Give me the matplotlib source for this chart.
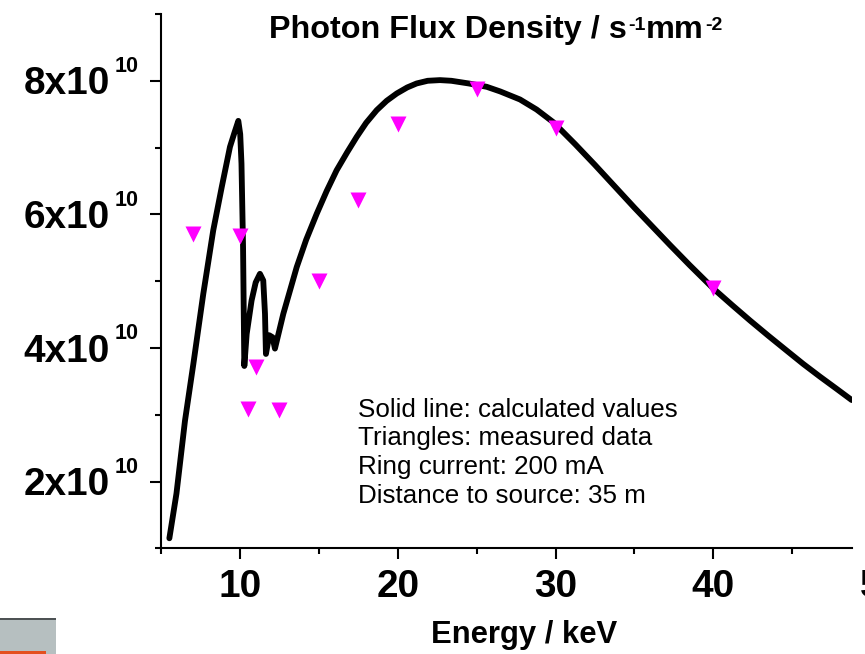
import matplotlib
matplotlib.use("Agg")
import matplotlib.pyplot as plt
from matplotlib.patches import Rectangle
from matplotlib.ticker import MultipleLocator

plt.rcParams["font.family"] = ["Liberation Sans", "DejaVu Sans"]

# calculated photon flux density (solid line), flux in units of 1e10 s^-1 mm^-2
calc_energy = [5.53, 5.98, 6.52, 7.05, 7.68, 8.31, 8.85, 9.37, 9.65, 9.90,
               10.02, 10.10, 10.20, 10.28, 10.43, 10.74, 11.00, 11.27, 11.48,
               11.59, 11.65, 11.86, 12.07, 12.22, 12.75, 13.20, 13.60, 14.20,
               14.87, 15.50, 16.13, 16.80, 17.40, 18.00, 18.67, 19.30, 19.94,
               20.60, 21.20, 21.90, 22.68, 23.40, 24.50, 25.64, 26.50, 27.75,
               28.80, 29.86, 31.25, 32.50, 33.75, 35.00, 36.25, 37.26, 38.50,
               40.00, 41.20, 42.33, 43.50, 44.65, 45.70, 46.76, 47.80, 48.77]
calc_flux = [1.15, 1.82, 2.91, 3.76, 4.81, 5.76, 6.41, 7.01, 7.22, 7.40,
             7.20, 6.76, 5.51, 3.73, 4.21, 4.71, 4.98, 5.11, 5.01,
             4.51, 3.91, 4.19, 4.16, 3.99, 4.51, 4.88, 5.21, 5.62,
             6.01, 6.35, 6.66, 6.93, 7.16, 7.37, 7.56, 7.70, 7.81,
             7.90, 7.96, 8.00, 8.01, 8.00, 7.96, 7.91, 7.84, 7.72,
             7.57, 7.38, 7.05, 6.74, 6.42, 6.10, 5.79, 5.54, 5.24,
             4.89, 4.64, 4.41, 4.18, 3.96, 3.76, 3.57, 3.39, 3.22]

# measured data (triangles)
meas_energy = [7, 10, 10.5, 11, 12.5, 15, 17.5, 20, 25, 30, 40]
meas_flux = [5.70, 5.67, 3.09, 3.71, 3.07, 5.00, 6.22, 7.35, 7.87, 7.29, 4.89]

ytick_vals = [2e10, 4e10, 6e10, 8e10]
xtick_vals = [10, 20, 30, 40]

notes = ["Solid line: calculated values", "Triangles: measured data",
         "Ring current: 200 mA", "Distance to source: 35 m"]

W, H = 865, 654


def fx(px):
    return px / W


def fy(py):
    return 1 - py / H


fig = plt.figure(figsize=(W / 100, H / 100), dpi=100)
ax = fig.add_axes([fx(161), fy(548.3), (851.7 - 161) / W, (548.3 - 14) / H])

ax.plot(calc_energy, [f * 1e10 for f in calc_flux], color="black", lw=4.2,
        solid_joinstyle="round", solid_capstyle="round", zorder=2)
ax.plot(meas_energy, [f * 1e10 for f in meas_flux], ls="none", marker="v",
        ms=11, color="#ff00ff", mec="none", zorder=3)

ax.set_xlim(5, 48.77)
ax.set_ylim(1e10, 9e10)
for s in ("top", "right"):
    ax.spines[s].set_visible(False)
for s in ("left", "bottom"):
    ax.spines[s].set_linewidth(1.5)

ax.set_xticks(xtick_vals)
ax.xaxis.set_minor_locator(MultipleLocator(5))
ax.set_yticks(ytick_vals)
ax.yaxis.set_minor_locator(MultipleLocator(1e10))
ax.tick_params(which="both", direction="out", width=1.5)
ax.tick_params(which="major", length=8)
ax.tick_params(which="minor", length=4.3)
ax.tick_params(axis="y", labelleft=False)
ax.tick_params(axis="x", labelsize=27.9, pad=7)
for lab in ax.get_xticklabels():
    lab.set_fontweight("bold")

# the "50" label sits past the visible end of the axis (cut by the edge)
ax.annotate("50", xy=(50, 0), xycoords=ax.get_xaxis_transform(),
            xytext=(10, -20.5), textcoords="offset pixels", ha="center", va="top",
            fontsize=27.9, fontweight="bold", annotation_clip=False)

yax = ax.get_yaxis_transform()
for v in ytick_vals:
    ax.annotate(f"{v / 1e10:.0f}x10", xy=(0, v), xycoords=yax,
                xytext=(-51, -13.6), textcoords="offset pixels", ha="right",
                va="baseline", fontsize=27.9, fontweight="bold",
                annotation_clip=False)
    ax.annotate("10", xy=(0, v), xycoords=yax, xytext=(-46, 8.6),
                textcoords="offset pixels", ha="left", va="baseline",
                fontsize=15.5, fontweight="bold", annotation_clip=False)

# title with superscripts
t1 = fig.text(fx(269), fy(37.7), "Photon Flux Density / s", ha="left",
              va="baseline", fontsize=23.3, fontweight="bold")
s1 = ax.annotate("-1", xy=(1, H - 30.5), xycoords=(t1, "figure pixels"),
                 xytext=(1, 0), textcoords="offset pixels", ha="left",
                 va="baseline", fontsize=14, fontweight="bold")
t2 = ax.annotate("mm", xy=(1, H - 37.7), xycoords=(s1, "figure pixels"),
                 xytext=(1, 0), textcoords="offset pixels", ha="left",
                 va="baseline", fontsize=23.3, fontweight="bold")
ax.annotate("-2", xy=(1, H - 30.5), xycoords=(t2, "figure pixels"),
            xytext=(1, 0), textcoords="offset pixels", ha="left",
            va="baseline", fontsize=14, fontweight="bold")

fig.text(fx(524), fy(643), "Energy / keV", ha="center", va="baseline",
         fontsize=22.3, fontweight="bold")

for i, line in enumerate(notes):
    fig.text(fx(358), fy(416.7 + 28.8 * i), line, ha="left", va="baseline",
             fontsize=18.7)

# bit of slide graphic in the bottom-left corner
fig.add_artist(Rectangle((0, 0), fx(56), (654 - 618) / H,
                         transform=fig.transFigure, fc="#b6bfc0", ec="none"))
fig.add_artist(Rectangle((0, fy(620)), fx(56), 2 / H,
                         transform=fig.transFigure, fc="#4d5254", ec="none"))
fig.add_artist(Rectangle((0, 0), fx(46), 3 / H,
                         transform=fig.transFigure, fc="#e4501f", ec="none"))

fig.savefig("out.png", dpi=100)
